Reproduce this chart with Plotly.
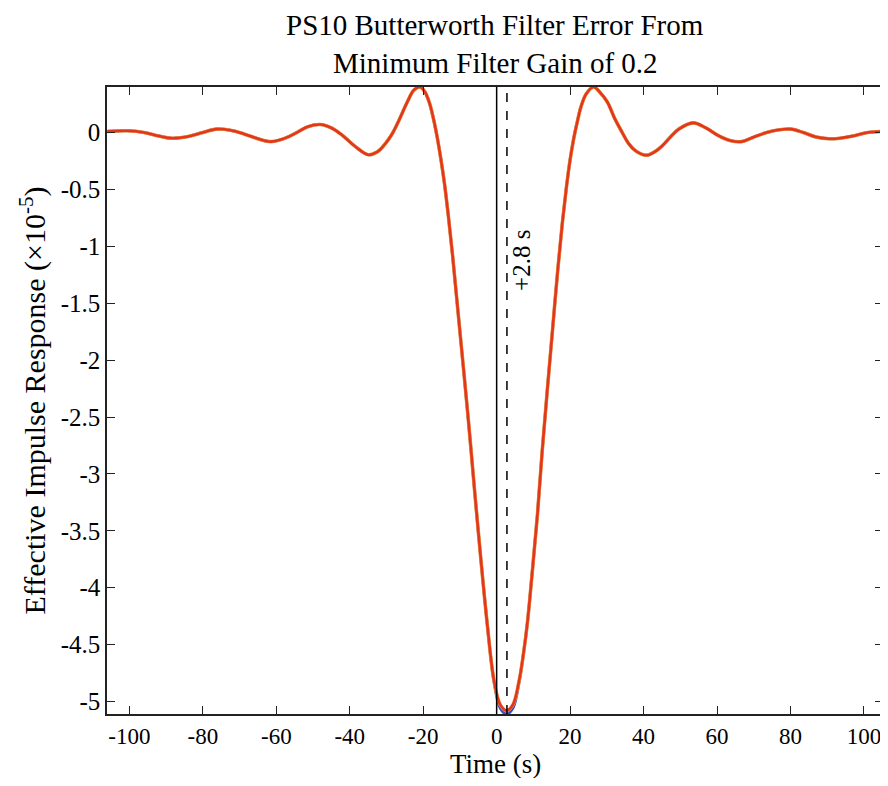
import plotly.graph_objects as go

# Time samples (s)
time_s = [-106, -100.5, -96, -92, -88.4, -84, -80, -76.3, -72.5, -69,
          -65, -61.5, -58.5, -55, -51.5, -48, -45, -42.2, -38.6, -35,
          -32.5, -30.6, -28.6, -27, -24.3, -22.6, -20.9, -19.6, -18.3, -17.2,
          -16.2, -15.2, -14.2, -13.2, -12.0, -10.6, -9.1, -7.5, -6.0, -4.3,
          -2.5, -0.7, 1.0, 2.7, 4.4, 6.1, 7.3, 8.4, 9.7, 11.1,
          12.4, 13.8, 15.2, 16.6, 17.9, 19.0, 20.0, 21.0, 22.0, 23.0,
          24.4, 26.4, 28.2, 30.1, 32.2, 34.2, 36.0, 37.8, 40.8, 43.0,
          45.0, 47.3, 49.6, 53.5, 57, 60.5, 63.5, 66.7, 70, 73.5,
          77, 80.1, 83.5, 87, 90.5, 93.5, 97, 101, 105.2]

# Effective impulse response (x1e-5), red series
resp_red = [0.01, 0.015, 0.0, -0.03, -0.05, -0.035, 0.0, 0.03, 0.02, -0.01,
            -0.055, -0.08, -0.06, -0.01, 0.05, 0.07, 0.04, -0.02, -0.12, -0.195,
            -0.17, -0.11, -0.02, 0.08, 0.27, 0.37, 0.40, 0.36, 0.26, 0.12,
            -0.04, -0.23, -0.45, -0.72, -1.08, -1.55, -2.05, -2.6, -3.15, -3.75,
            -4.34, -4.82, -5.03, -5.08, -5.03, -4.82, -4.58, -4.3, -3.86, -3.36,
            -2.8, -2.26, -1.74, -1.22, -0.79, -0.48, -0.24, -0.05, 0.10, 0.23,
            0.34, 0.40, 0.35, 0.27, 0.12, 0.0, -0.10, -0.16, -0.20, -0.17,
            -0.12, -0.04, 0.03, 0.085, 0.04, -0.03, -0.07, -0.08, -0.04, 0.0,
            0.025, 0.03, 0.0, -0.04, -0.055, -0.05, -0.03, 0.0, 0.01]

# Blue series (nearly identical, slightly deeper minimum)
resp_blue = [0.01, 0.015, 0.0, -0.03, -0.05, -0.035, 0.0, 0.03, 0.02, -0.01,
             -0.055, -0.08, -0.06, -0.01, 0.05, 0.07, 0.04, -0.02, -0.12, -0.195,
             -0.17, -0.11, -0.02, 0.08, 0.27, 0.37, 0.40, 0.36, 0.26, 0.12,
             -0.04, -0.23, -0.45, -0.72, -1.08, -1.55, -2.05, -2.6, -3.15, -3.75,
             -4.34, -4.83, -5.06, -5.11, -5.06, -4.83, -4.58, -4.3, -3.86, -3.36,
             -2.8, -2.26, -1.74, -1.22, -0.79, -0.48, -0.24, -0.05, 0.10, 0.23,
             0.34, 0.40, 0.35, 0.27, 0.12, 0.0, -0.10, -0.16, -0.20, -0.17,
             -0.12, -0.04, 0.03, 0.085, 0.04, -0.03, -0.07, -0.08, -0.04, 0.0,
             0.025, 0.03, 0.0, -0.04, -0.055, -0.05, -0.03, 0.0, 0.01]

x_ticks = [-100, -80, -60, -40, -20, 0, 20, 40, 60, 80, 100]
x_tick_text = ["-100", "-80", "-60", "-40", "-20", "0", "20", "40", "60", "80", "100"]
y_ticks = [0, -0.5, -1, -1.5, -2, -2.5, -3, -3.5, -4, -4.5, -5]
y_tick_text = ["0", "-0.5", "-1", "-1.5", "-2", "-2.5", "-3", "-3.5", "-4", "-4.5", "-5"]

title_lines = ["PS10 Butterworth Filter Error From", "Minimum Filter Gain of 0.2"]
x_title = "Time (s)"
y_title = "Effective Impulse Response (×10<sup>-5</sup>)"
delay_s = 2.8
delay_label = "+2.8 s"
x_range = [-106.1, 105.2]
y_range = [-5.11, 0.40]

FONT = "Liberation Serif, Times New Roman, serif"

fig = go.Figure()
fig.add_trace(go.Scatter(x=time_s, y=resp_blue, mode="lines", line_shape="spline",
                         line=dict(color="#3a4fc0", width=3), showlegend=False))
fig.add_trace(go.Scatter(x=time_s, y=resp_red, mode="lines", line_shape="spline",
                         line=dict(color="#f0a040", width=3.6), showlegend=False))
fig.add_trace(go.Scatter(x=time_s, y=resp_red, mode="lines", line_shape="spline",
                         line=dict(color="#e2361e", width=2.6), showlegend=False))

# zero line and delay line
fig.add_shape(type="line", x0=0, x1=0, y0=y_range[0], y1=y_range[1],
              line=dict(color="black", width=1.5), layer="above")
fig.add_shape(type="line", x0=delay_s, x1=delay_s, y0=y_range[0], y1=y_range[1],
              line=dict(color="black", width=1.5, dash="dash"), layer="above")

fig.add_annotation(x=6.9, y=-1.12, text=delay_label, textangle=-90, showarrow=False,
                   font=dict(family=FONT, size=25, color="black"))

# two-line title
for i, line in enumerate(title_lines):
    fig.add_annotation(x=0.5, y=1, xref="paper", yref="paper", xanchor="center",
                       yanchor="middle", yshift=62 - 37.5 * i, text=line, showarrow=False,
                       font=dict(family=FONT, size=29, color="black"))

# x axis title
fig.add_annotation(x=0.5, y=0, xref="paper", yref="paper", xanchor="center",
                   yanchor="top", yshift=-33, text=x_title, showarrow=False,
                   font=dict(family=FONT, size=27, color="black"))

fig.update_layout(
    width=880, height=770,
    margin=dict(l=99, r=3, t=79, b=64),
    paper_bgcolor="white", plot_bgcolor="white",
    font=dict(family=FONT, color="black"),
    xaxis=dict(range=x_range, tickvals=x_ticks, ticktext=x_tick_text,
               ticks="inside", ticklen=8, tickwidth=1.2, tickcolor="#222",
               showline=True, linecolor="#222", linewidth=1.5, mirror="ticks",
               showgrid=False, zeroline=False, ticklabelstandoff=1,
               tickfont=dict(family=FONT, size=23)),
    yaxis=dict(range=y_range, tickvals=y_ticks, ticktext=y_tick_text,
               ticks="inside", ticklen=8, tickwidth=1.2, tickcolor="#222",
               showline=True, linecolor="#222", linewidth=1.5, mirror="ticks",
               showgrid=False, zeroline=False,
               tickfont=dict(family=FONT, size=25),
               title=dict(text=y_title, font=dict(family=FONT, size=30), standoff=6)),
)

fig.write_html("out.html")
